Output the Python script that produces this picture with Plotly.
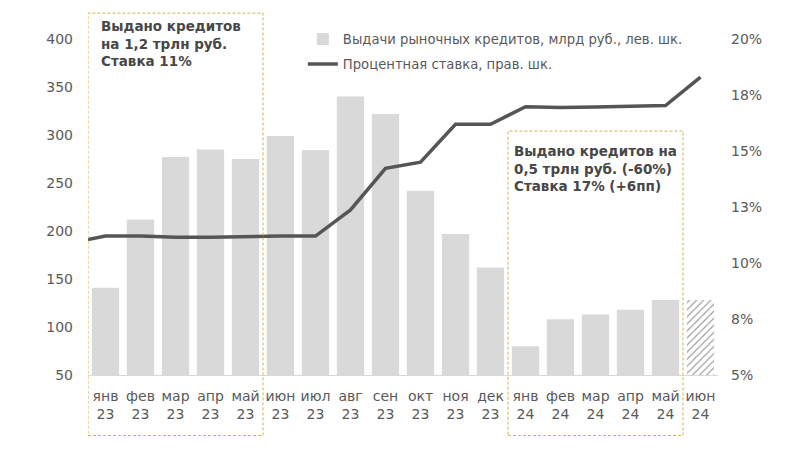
import plotly.graph_objects as go

months = ["янв<br>23", "фев<br>23", "мар<br>23", "апр<br>23", "май<br>23", "июн<br>23",
          "июл<br>23", "авг<br>23", "сен<br>23", "окт<br>23", "ноя<br>23", "дек<br>23",
          "янв<br>24", "фев<br>24", "мар<br>24", "апр<br>24", "май<br>24", "июн<br>24"]
loans = [141, 212, 277, 285, 275, 299, 284, 340, 322, 242, 197, 162, 80, 108, 113, 118, 128, 128]
loans_estimate = [False] * 17 + [True]
rate_x = [-0.5] + list(range(18))
rate = [11.05, 11.2, 11.2, 11.15, 11.15, 11.18, 11.2, 11.2, 12.37, 14.23, 14.5, 16.19, 16.19,
        16.98, 16.94, 16.96, 16.98, 17.03, 18.3]
left_ticks = [50, 100, 150, 200, 250, 300, 350, 400]
right_ticks = [5, 7.5, 10, 12.5, 15, 17.5, 20]
right_labels = ["5%", "8%", "10%", "13%", "15%", "18%", "20%"]

FONT = "DejaVu Sans"
GRAY = "#595959"

x_idx = list(range(len(months)))
fig = go.Figure()
fig.add_trace(go.Bar(
    x=x_idx, y=loans, base=0,
    name="Выдачи рыночных кредитов, млрд руб., лев. шк.",
    legendgroup="a",
    marker=dict(
        color=["#ffffff" if e else "#d9d9d9" for e in loans_estimate],
        line=dict(width=0),
        pattern=dict(shape=["/" if e else "" for e in loans_estimate],
                     fgcolor="#d3d3d3", bgcolor="#ffffff", size=5, solidity=0.25),
    ),
    width=0.78,
    yaxis="y",
))
fig.add_trace(go.Scatter(
    x=rate_x, y=rate, mode="lines",
    name="Процентная ставка, прав. шк.",
    legendgroup="b",
    line=dict(color="#555555", width=3.5),
    yaxis="y2",
))

box_color = "#ccb64c"
shapes = [
    dict(type="rect", xref="x", yref="paper", x0=-0.5, x1=4.5, y0=-0.18, y1=1.077,
         line=dict(color=box_color, width=1, dash="3px,2px")),
    dict(type="rect", xref="x", yref="paper", x0=11.5, x1=16.5, y0=-0.18, y1=0.726,
         line=dict(color=box_color, width=1, dash="3px,2px")),
]

annotations = [
    dict(xref="x", yref="paper", x=-0.2, y=1.068, xanchor="left", yanchor="top",
         align="left", showarrow=False,
         text="<b>Выдано кредитов<br>на 1,2 трлн руб.<br>Ставка 11%</b>",
         font=dict(family=FONT, size=13.5, color="#474747")),
    dict(xref="x", yref="paper", x=11.62, y=0.696, xanchor="left", yanchor="top",
         align="left", showarrow=False,
         text="<b>Выдано кредитов на<br>0,5 трлн руб. (-60%)<br>Ставка 17% (+6пп)</b>",
         font=dict(family=FONT, size=13.5, color="#474747")),
]

fig.update_layout(
    width=792, height=441,
    margin=dict(l=80, r=82, t=31, b=74),
    paper_bgcolor="white", plot_bgcolor="white",
    font=dict(family=FONT, size=14, color=GRAY),
    showlegend=True,
    legend=dict(x=0.341, y=1.045, xanchor="left", yanchor="top",
                font=dict(family=FONT, size=13.2, color=GRAY),
                bgcolor="rgba(0,0,0,0)", tracegroupgap=5, itemwidth=30),
    xaxis=dict(range=[-0.5, 17.5], tickvals=x_idx, ticktext=months,
               showgrid=False, zeroline=False,
               showline=True, linecolor="#d9d9d9", linewidth=1,
               ticks="", ticklabelstandoff=8, tickfont=dict(size=14, color=GRAY)),
    yaxis=dict(range=[50, 400], tickvals=left_ticks, showgrid=False, zeroline=False,
               showline=False, ticks="", ticklabelstandoff=14,
               tickfont=dict(size=14, color=GRAY)),
    yaxis2=dict(range=[5, 20], tickvals=right_ticks, ticktext=right_labels,
                overlaying="y", side="right", showgrid=False, zeroline=False,
                showline=False, ticks="", ticklabelstandoff=12,
                tickfont=dict(size=14, color=GRAY)),
    shapes=shapes,
    annotations=annotations,
    bargap=0.22,
)

# boundary tick marks on the category axis
fig.add_trace(go.Scatter(
    x=[v for b in [i + 0.5 for i in range(-1, 18)] for v in (b, b, None)],
    y=[v for _ in range(19) for v in (50, 45.5, None)],
    mode="lines", line=dict(color="#d9d9d9", width=1),
    showlegend=False, hoverinfo="skip", cliponaxis=False, yaxis="y",
))

fig.write_html("out.html")
